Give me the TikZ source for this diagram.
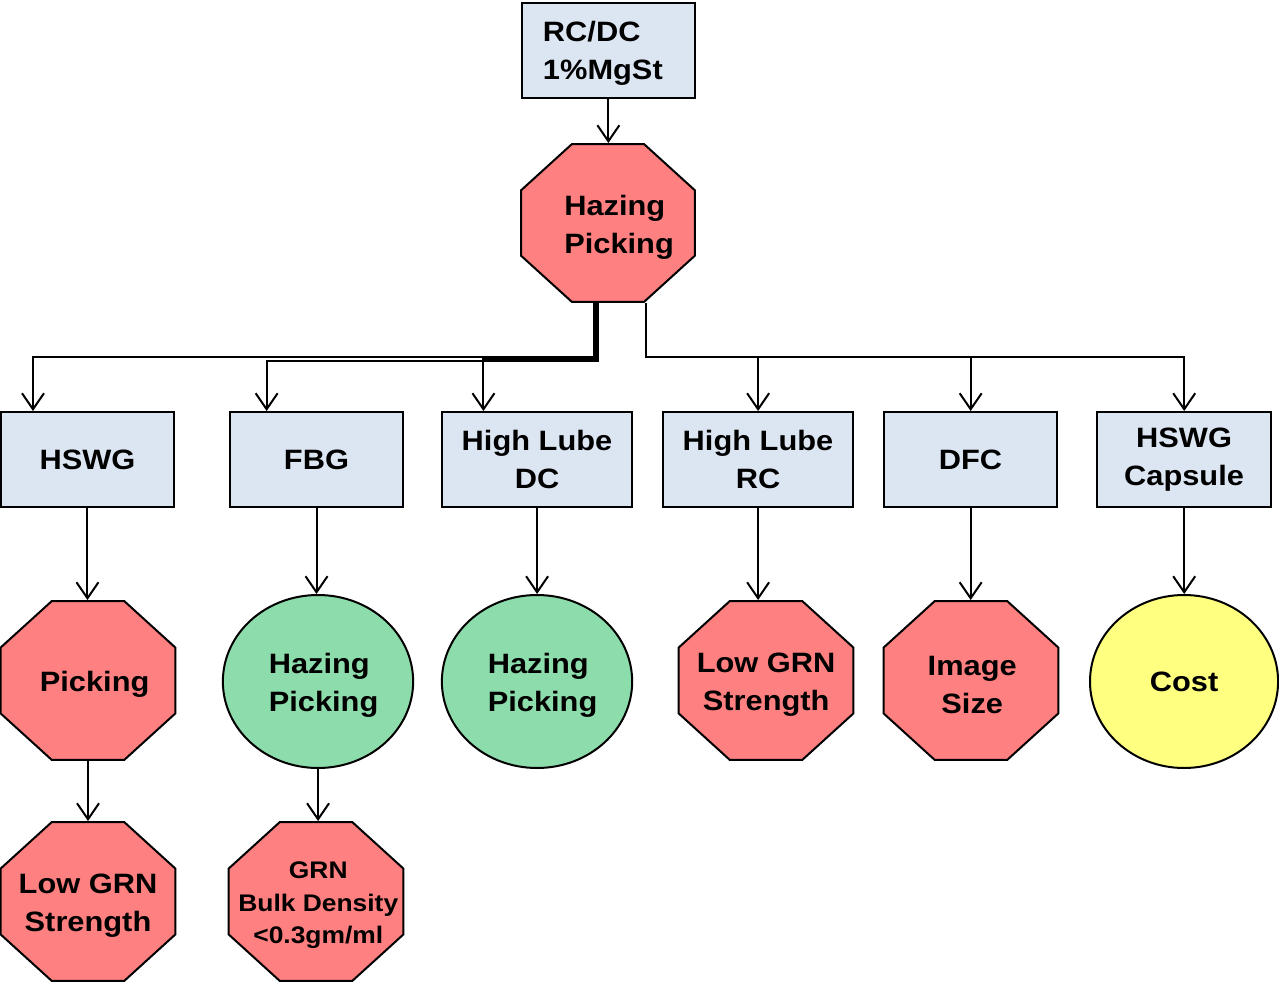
\documentclass[tikz,border=0pt]{standalone}
\usepackage{fontspec}
\setmainfont{Liberation Sans}
\usetikzlibrary{shapes.geometric,arrows.meta}
\definecolor{boxblue}{HTML}{DCE6F2}
\definecolor{stopred}{HTML}{FF8080}
\definecolor{okgreen}{HTML}{8DDCAB}
\definecolor{costyellow}{HTML}{FFFF80}
\begin{document}
\begin{tikzpicture}[x=1pt,y=-1pt,xscale=1.1,
  every node/.style={transform shape},
  txt/.style={font=\fontsize{28}{38}\selectfont\bfseries},
  inlabel/.style={txt, yshift=-4pt},
  smalltxt/.style={font=\fontsize{24}{32.5}\selectfont\bfseries, yshift=-4pt},
  stage/.style={draw, line width=2pt, fill=boxblue, rectangle, inner sep=0pt,
    minimum height=95, minimum width=157.3, txt, align=center},
  stop/.style={draw, line width=2pt, fill=stopred, regular polygon,
    regular polygon sides=8, minimum size=172, inner sep=0pt},
  good/.style={draw, line width=2pt, fill=okgreen, circle, minimum size=173,
    inner sep=0pt},
  costnode/.style={draw, line width=2pt, fill=costyellow, ellipse,
    minimum width=171, minimum height=173, inner sep=0pt, txt},
  conn/.style={line width=2pt, -{Straight Barb[length=16pt,width=22pt,line width=2pt]}}
]
\useasboundingbox (0,0) rectangle (1162.73,983);

% root and first decision
\node[stage, label={[inlabel, align=left, xshift=-5, yshift=1pt]center:RC/DC\\1\%MgSt}] (top) at (553,50) {};
\node[stop, minimum size=171,
  label={[inlabel, align=left, xshift=10]center:Hazing\\Picking}] (hp) at (552.7,223) {};

% process options
\node[stage] (hswg) at (79.5,459.5) {HSWG};
\node[stage] (fbg) at (287.7,459.5) {FBG};
\node[stage, minimum width=172.7] (dc) at (488.2,459.5) {High Lube\\DC};
\node[stage, minimum width=172.7] (rc) at (689.1,459.5) {High Lube\\RC};
\node[stage] (dfc) at (882.3,459.5) {DFC};
\node[stage, minimum width=158.2] (cap) at (1076.4,459.5) {HSWG\\Capsule};

% outcomes
\node[stop, label={[inlabel, xshift=6]center:Picking}] (pick) at (80,680.5) {};
\node[good, label={[inlabel, align=left, xshift=5]center:Hazing\\Picking}] (c1) at (289.1,681.5) {};
\node[good, label={[inlabel, align=left, xshift=5]center:Hazing\\Picking}] (c2) at (488.2,681.5) {};
\node[stop, label={[inlabel, align=center]center:Low GRN\\Strength}] (lgs1) at (696.4,680.5) {};
\node[stop, label={[inlabel, align=center, xshift=1]center:Image\\Size}] (img) at (882.7,680.5) {};
\node[costnode] (cost) at (1076.4,681.5) {Cost};

\node[stop, label={[inlabel, align=center]center:Low GRN\\Strength}] (lgs2) at (80,901.5) {};
\node[stop, label={[smalltxt, align=center, xshift=2]center:GRN\\Bulk Density\\<0.3gm/ml}] (grn) at (287.3,901.5) {};

% connectors
\draw[conn] (top.south) -- (top.south |- hp.north);

\draw[conn] (hp.south -| 540,0) -- (540,357) -| (hswg.north -| 30,0);
\draw[conn] (hp.south -| 541.8,0) -- (541.8,359) -| (dc.north -| 439.5,0);
\draw[conn] (hp.south -| 543.6,0) -- (543.6,361) -| (fbg.north -| 242.4,0);

\draw[conn] (hp.south -| 587.3,0) -- (587.3,357) -| (cap.north);
\draw[conn] (rc.north |- 0,357) -- (rc.north);
\draw[conn] (dfc.north |- 0,357) -- (dfc.north);

\draw[conn] (hswg.south) -- (hswg.south |- pick.north);
\draw[conn] (pick.south) -- (pick.south |- lgs2.north);
\draw[conn] (fbg.south) -- (fbg.south |- c1.north);
\draw[conn] (c1.south) -- (c1.south |- grn.north);
\draw[conn] (dc.south) -- (dc.south |- c2.north);
\draw[conn] (rc.south) -- (rc.south |- lgs1.north);
\draw[conn] (dfc.south) -- (dfc.south |- img.north);
\draw[conn] (cap.south) -- (cap.south |- cost.north);
\end{tikzpicture}
\end{document}
